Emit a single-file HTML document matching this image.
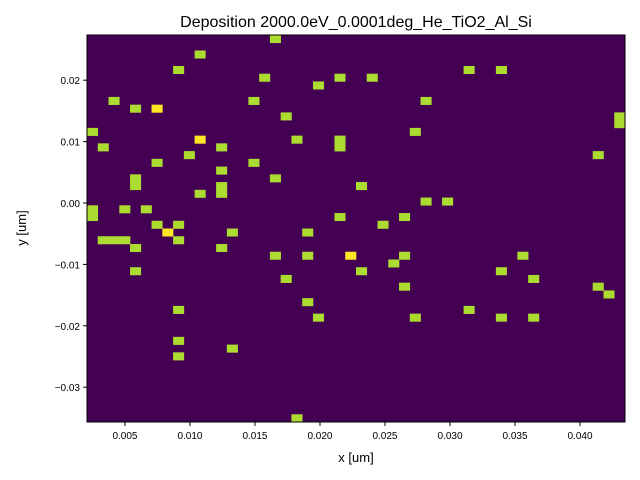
<!DOCTYPE html>
<html><head><meta charset="utf-8"><style>
body{margin:0;background:#fff;}
svg{display:block;font-family:"Liberation Sans","DejaVu Sans",sans-serif;}
</style></head><body>
<svg id="chart" width="640" height="480" viewBox="0 0 640 480">
<rect width="640" height="480" fill="#fff"/>
<text x="356" y="27" text-anchor="middle" font-size="16" fill="#000">Deposition 2000.0eV_0.0001deg_He_TiO2_Al_Si</text>
<g id="plot"></g>
<g id="axes"></g>
<text x="356" y="462" text-anchor="middle" font-size="13">x [um]</text>
<text transform="translate(26,228) rotate(-90)" text-anchor="middle" font-size="13">y [um]</text>
</svg>
<script>
// bin domains (um)
const xDomain = [0.00208, 0.04346];
const yDomain = [-0.03567, 0.02736];
const nBins = 50;
// occupied bins: column index (from left), row index (from top), counts
const colIdx = [17,10,8,16,23,26,35,38,21,2,4,6,15,18,31,49,49,0,1,10,12,19,23,23,30,47,6,9,15,12,17,4,4,12,12,25,10,31,33,0,0,3,5,23,29,6,8,7,13,20,27,1,2,3,8,4,12,17,20,24,29,40,4,25,28,38,18,41,29,47,48,20,8,35,21,30,38,41,8,13,8,19];
const rowIdx = [0,2,4,5,5,5,4,4,6,8,9,9,8,10,8,10,11,12,14,13,14,13,13,14,12,15,16,15,16,17,18,18,19,19,20,19,20,21,21,22,23,22,22,23,23,24,24,25,25,25,24,26,26,26,26,27,27,28,28,28,28,28,30,30,29,30,31,31,32,32,33,34,35,35,36,36,36,36,39,40,41,49];
const counts = [1,1,1,1,1,1,1,1,1,1,1,2,1,1,1,1,1,1,1,2,1,1,1,1,1,1,1,1,1,1,1,1,1,1,1,1,1,1,1,1,1,1,1,1,1,1,1,2,1,1,1,1,1,1,1,1,1,1,1,2,1,1,1,1,1,1,1,1,1,1,1,1,1,1,1,1,1,1,1,1,1,1];
const xTicks = [0.005,0.010,0.015,0.020,0.025,0.030,0.035,0.040];
const xTickLabels = ["0.005","0.010","0.015","0.020","0.025","0.030","0.035","0.040"];
const yTicks = [0.02,0.01,0.00,-0.01,-0.02,-0.03];
const yTickLabels = ["0.02","0.01","0.00","\u22120.01","\u22120.02","\u22120.03"];

const L=87,R=625,T=35,B=422;
const sx = v => L + (v-xDomain[0])/(xDomain[1]-xDomain[0])*(R-L);
const sy = v => B - (v-yDomain[0])/(yDomain[1]-yDomain[0])*(B-T);
const dx = (xDomain[1]-xDomain[0])/nBins, dy=(yDomain[1]-yDomain[0])/nBins;
const NS="http://www.w3.org/2000/svg";
const plot=document.getElementById('plot'), axes=document.getElementById('axes');
function mk(tag,attrs,parent){const e=document.createElementNS(NS,tag);for(const k in attrs)e.setAttribute(k,attrs[k]);parent.appendChild(e);return e;}
const maxC=Math.max(...counts);
const bg=mk('rect',{x:L,y:T,width:R-L,height:B-T,fill:'#440154'},plot);


for(let i=0;i<colIdx.length;i++){
  const x0=xDomain[0]+colIdx[i]*dx, x1=x0+dx;
  const y1=yDomain[1]-rowIdx[i]*dy, y0=y1-dy;
  const px0=sx(x0), px1=sx(x1), py0=sy(y1), py1=sy(y0);
  const c=mk('rect',{x:px0,y:py0,width:px1-px0+0.3,height:py1-py0+0.3,fill:counts[i]>=maxC?'#fde725':'#addc30'},plot);
  
  
}
const frame=mk('rect',{x:L,y:T,width:R-L,height:B-T,fill:'none',stroke:'#000','stroke-width':1},axes);


xTicks.forEach((v,i)=>{
  const x=sx(v);
  const t=mk('line',{x1:x,x2:x,y1:B,y2:B+4,stroke:'#000'},axes);
  
  
  const tx=mk('text',{x:x,y:B+17,'text-anchor':'middle','font-size':10},axes);
  tx.textContent=xTickLabels[i];
  
  
});
yTicks.forEach((v,i)=>{
  const y=sy(v);
  const t=mk('line',{x1:L-4,x2:L,y1:y,y2:y,stroke:'#000'},axes);
  
  
  const tx=mk('text',{x:L-7,y:y+4,'text-anchor':'end','font-size':10},axes);
  tx.textContent=yTickLabels[i];
  
  
});
</script>
</body></html>
